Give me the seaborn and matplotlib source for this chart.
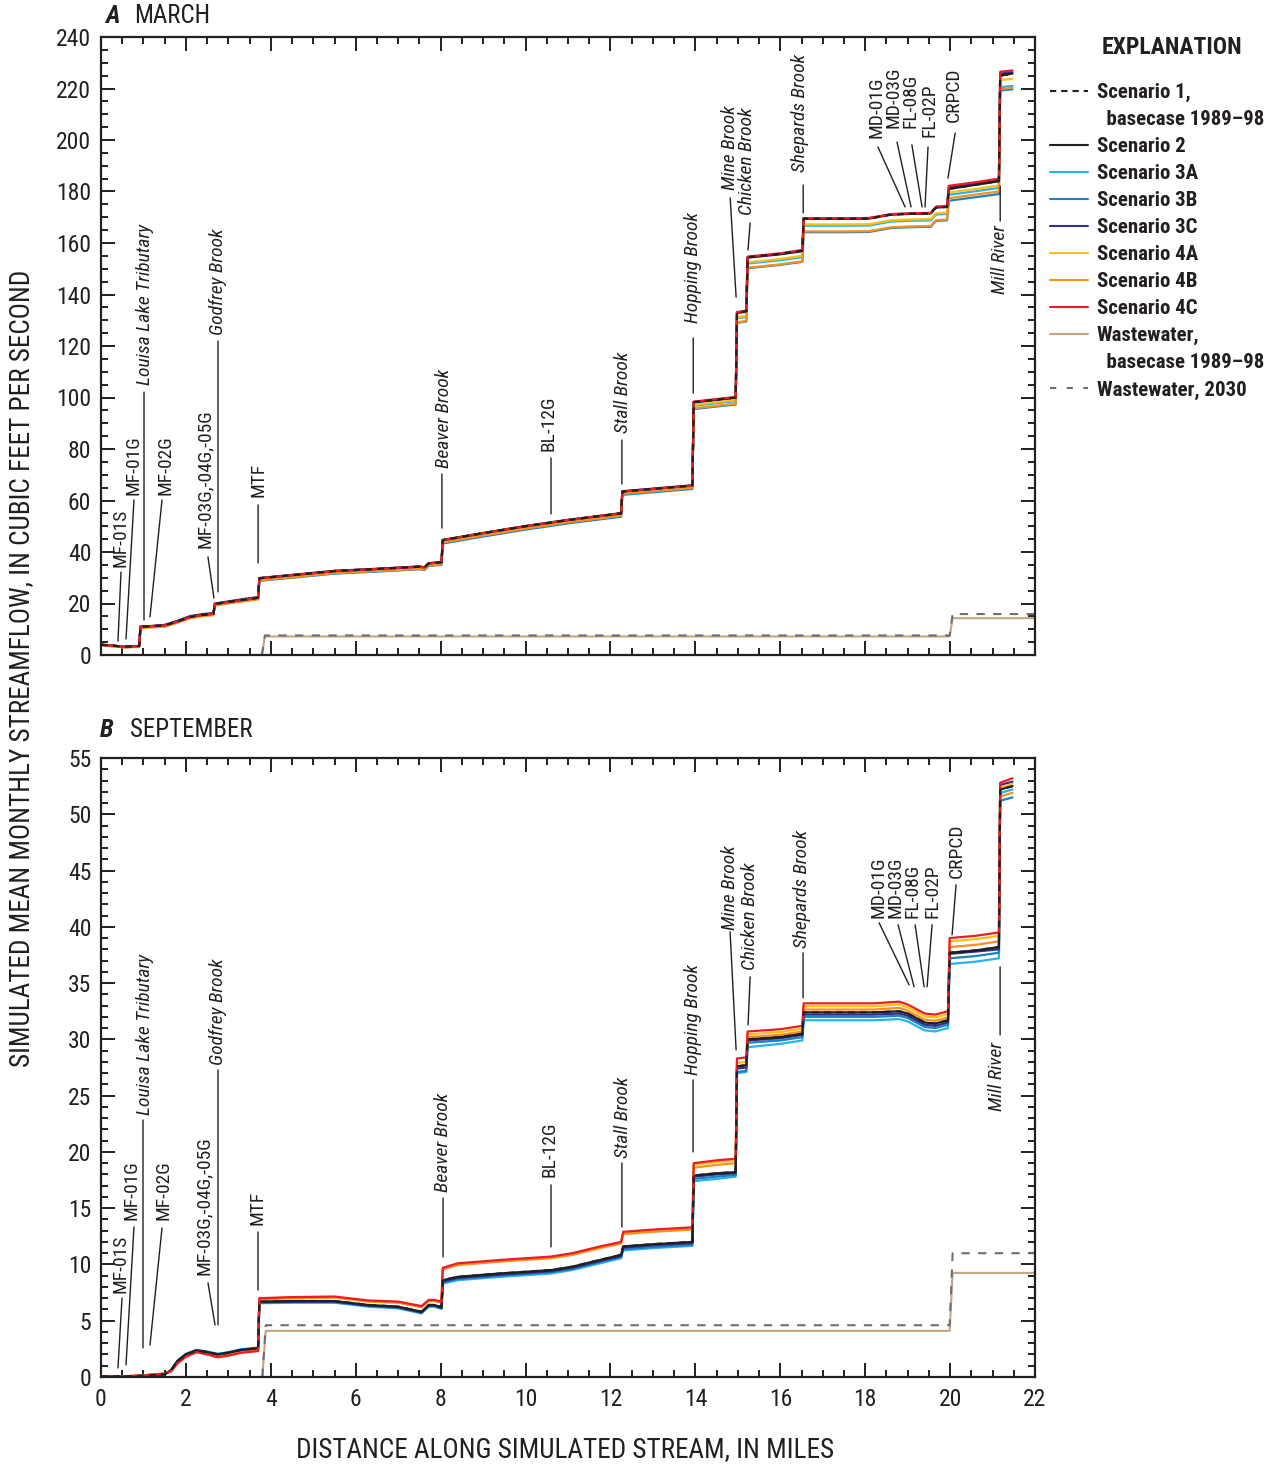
import matplotlib
matplotlib.use("Agg")
import matplotlib.pyplot as plt
from matplotlib import font_manager
from matplotlib.ticker import MultipleLocator
from matplotlib.lines import Line2D
import pandas as pd
import seaborn as sns

# ---------------- data ----------------
march_miles = [0.0, 0.3, 0.55, 0.9, 0.93, 1.2, 1.5, 1.8, 2.1, 2.4, 2.65, 2.68, 3.0, 3.3, 3.7, 3.73,
               4.5, 5.5, 6.5, 7.5, 7.62, 7.72, 8.02, 8.05, 9.0, 10.0, 11.0, 12.25, 12.28, 13.0,
               13.93, 13.96, 14.5, 14.95, 14.98, 15.2, 15.23, 16.0, 16.52, 16.55, 17.5, 18.1,
               18.6, 19.0, 19.55, 19.62, 19.68, 19.93, 19.97, 20.6, 21.15, 21.18, 21.47]
march_s1 = [4.0, 3.6, 3.2, 3.5, 11.0, 11.2, 11.5, 13.0, 14.8, 15.6, 16.0, 19.8, 20.6, 21.3, 22.2, 29.8,
            31.0, 32.6, 33.4, 34.3, 34.0, 35.6, 36.0, 44.6, 47.3, 50.0, 52.4, 55.0, 63.5, 64.5,
            65.8, 98.2, 99.2, 100.0, 133.0, 133.5, 154.5, 155.8, 157.0, 169.4, 169.4, 169.5,
            171.0, 171.3, 171.5, 173.0, 173.8, 174.0, 181.0, 182.6, 184.0, 225.0, 225.8]
march_s2 = [4.0, 3.6, 3.2, 3.5, 11.0, 11.2, 11.5, 13.0, 14.8, 15.6, 16.0, 19.8, 20.6, 21.3, 22.2, 29.8,
            31.0, 32.6, 33.4, 34.3, 34.0, 35.6, 36.0, 44.6, 47.3, 50.0, 52.4, 55.0, 63.5, 64.5,
            65.8, 98.2, 99.2, 100.0, 133.0, 133.5, 154.5, 155.8, 157.0, 169.4, 169.4, 169.5,
            171.0, 171.3, 171.5, 173.0, 173.8, 174.0, 181.0, 182.6, 184.0, 225.0, 225.8]
march_s3a = [3.8, 3.4, 3.0, 3.3, 10.8, 11.0, 11.4, 12.9, 14.7, 15.5, 15.9, 19.6, 20.4, 21.1, 22.0, 29.0,
             30.2, 31.8, 32.6, 33.5, 33.2, 34.8, 35.2, 43.6, 46.3, 49.0, 51.4, 54.0, 62.5, 63.5,
             64.8, 96.8, 97.8, 98.6, 130.8, 131.3, 152.0, 153.3, 154.5, 166.7, 166.7, 166.8,
             168.3, 168.6, 168.8, 170.3, 171.1, 171.3, 178.7, 180.1, 181.4, 220.5, 221.0]
march_s3b = [3.9, 3.5, 3.1, 3.4, 10.9, 11.1, 11.5, 13.1, 14.9, 15.7, 16.1, 19.8, 20.7, 21.4, 22.3, 28.8,
             30.0, 31.6, 32.4, 33.3, 33.0, 34.6, 35.0, 43.3, 46.0, 48.7, 51.1, 53.7, 62.2, 63.2,
             64.5, 95.5, 96.5, 97.3, 129.0, 129.5, 150.2, 151.5, 152.7, 164.2, 164.2, 164.3,
             165.8, 166.1, 166.3, 167.8, 168.6, 168.8, 176.4, 177.8, 179.0, 219.2, 219.7]
march_s3c = [4.0, 3.6, 3.2, 3.5, 11.0, 11.3, 11.7, 13.3, 15.1, 15.9, 16.3, 20.0, 20.8, 21.6, 22.5, 29.9,
             31.1, 32.7, 33.5, 34.4, 34.1, 35.7, 36.1, 44.7, 47.4, 50.1, 52.5, 55.1, 63.6, 64.6,
             65.9, 98.0, 99.0, 99.8, 132.8, 133.3, 154.3, 155.6, 156.8, 169.6, 169.6, 169.7,
             171.1, 171.4, 171.6, 173.1, 173.9, 174.1, 181.6, 183.0, 184.4, 225.8, 226.3]
march_s4a = [3.8, 3.4, 3.0, 3.3, 10.7, 10.9, 11.2, 12.7, 14.5, 15.3, 15.7, 19.4, 20.2, 20.9, 21.8, 29.3,
             30.5, 32.1, 32.9, 33.8, 33.5, 35.1, 35.5, 44.0, 46.7, 49.4, 51.8, 54.4, 62.9, 63.9,
             65.2, 97.2, 98.2, 99.0, 131.2, 131.7, 152.5, 153.8, 155.0, 167.2, 167.2, 167.3,
             168.8, 169.1, 169.3, 170.8, 171.6, 171.8, 179.6, 181.0, 182.3, 223.3, 223.8]
march_s4b = [3.7, 3.3, 2.9, 3.2, 10.5, 10.7, 11.0, 12.5, 14.3, 15.1, 15.5, 19.2, 20.0, 20.7, 21.6, 29.0,
             30.2, 31.8, 32.6, 33.5, 33.2, 34.8, 35.2, 43.7, 46.4, 49.1, 51.5, 54.1, 62.6, 63.6,
             64.9, 95.8, 96.8, 97.6, 129.2, 129.7, 150.4, 151.7, 152.9, 164.5, 164.5, 164.6,
             166.1, 166.4, 166.6, 168.1, 168.9, 169.1, 177.4, 178.8, 180.0, 219.8, 220.3]
march_s4c = [4.0, 3.6, 3.2, 3.5, 11.0, 11.2, 11.5, 13.0, 14.8, 15.6, 16.0, 19.8, 20.6, 21.3, 22.2, 29.8,
             31.0, 32.6, 33.4, 34.3, 34.0, 35.6, 36.0, 44.6, 47.3, 50.0, 52.4, 55.0, 63.5, 64.5,
             65.8, 98.4, 99.4, 100.2, 133.2, 133.7, 154.7, 156.0, 157.3, 169.6, 169.6, 169.7,
             171.2, 171.5, 171.7, 173.3, 174.2, 174.4, 182.2, 183.6, 185.0, 226.5, 227.0]
march_ww_miles = [3.79, 3.86, 19.99, 20.06, 22.0]
march_ww_base = [0.0, 7.2, 7.2, 14.3, 14.3]
march_ww_2030 = [0.0, 7.6, 7.6, 15.9, 15.9]

sept_miles = [0.0, 0.5, 1.0, 1.5, 1.65, 1.8, 2.0, 2.25, 2.5, 2.75, 3.0, 3.3, 3.7, 3.73, 4.5, 5.5,
              6.3, 7.0, 7.55, 7.72, 7.85, 8.02, 8.05, 8.4, 9.4, 10.6, 11.1, 11.75, 12.25, 12.3,
              13.0, 13.93, 13.96, 14.5, 14.95, 14.98, 15.2, 15.23, 16.0, 16.52, 16.55, 17.5,
              18.2, 18.8, 19.0, 19.4, 19.65, 19.95, 19.99, 20.6, 21.15, 21.18, 21.47]
sept_s1 = [0.05, 0.05, 0.1, 0.25, 0.6, 1.4, 2.0, 2.35, 2.2, 2.0, 2.15, 2.4, 2.55, 6.7, 6.75, 6.75,
           6.4, 6.25, 5.8, 6.4, 6.4, 6.2, 8.6, 8.9, 9.2, 9.5, 9.8, 10.4, 10.85, 11.6, 11.8, 12.0,
           17.9, 18.1, 18.2, 27.6, 27.7, 30.0, 30.2, 30.5, 32.4, 32.4, 32.4, 32.5, 32.3, 31.5,
           31.4, 31.7, 37.7, 37.9, 38.2, 52.2, 52.5]
sept_s2 = [0.05, 0.05, 0.1, 0.25, 0.6, 1.4, 2.0, 2.35, 2.2, 2.0, 2.15, 2.4, 2.55, 6.7, 6.75, 6.75,
           6.4, 6.25, 5.8, 6.4, 6.4, 6.2, 8.6, 8.9, 9.2, 9.5, 9.8, 10.4, 10.85, 11.6, 11.8, 12.0,
           17.9, 18.1, 18.2, 27.6, 27.7, 30.0, 30.2, 30.5, 32.4, 32.4, 32.4, 32.5, 32.3, 31.5,
           31.4, 31.7, 37.7, 37.9, 38.2, 52.2, 52.5]
sept_s3a = [0.05, 0.05, 0.1, 0.25, 0.6, 1.45, 2.05, 2.4, 2.25, 2.05, 2.2, 2.45, 2.6, 6.55, 6.6, 6.6,
            6.25, 6.1, 5.65, 6.25, 6.25, 6.05, 8.3, 8.6, 8.9, 9.2, 9.5, 10.1, 10.55, 11.25, 11.45,
            11.65, 17.4, 17.6, 17.8, 27.0, 27.1, 29.3, 29.6, 29.9, 31.7, 31.7, 31.7, 31.8, 31.6,
            30.8, 30.7, 31.0, 36.7, 36.9, 37.2, 51.9, 52.2]
sept_s3b = [0.05, 0.05, 0.1, 0.25, 0.6, 1.45, 2.05, 2.4, 2.25, 2.05, 2.2, 2.45, 2.6, 6.6, 6.65, 6.65,
            6.3, 6.15, 5.7, 6.3, 6.3, 6.1, 8.4, 8.7, 9.0, 9.3, 9.6, 10.2, 10.65, 11.35, 11.55,
            11.75, 17.6, 17.8, 17.95, 27.1, 27.2, 29.7, 29.9, 30.2, 32.0, 32.0, 32.0, 32.1, 31.9,
            31.1, 31.0, 31.3, 37.2, 37.4, 37.7, 51.2, 51.5]
sept_s3c = [0.05, 0.05, 0.1, 0.25, 0.6, 1.4, 2.0, 2.35, 2.2, 2.0, 2.15, 2.4, 2.55, 6.65, 6.7, 6.7,
            6.35, 6.2, 5.75, 6.35, 6.35, 6.15, 8.5, 8.8, 9.1, 9.4, 9.7, 10.3, 10.75, 11.5, 11.7,
            11.9, 17.8, 18.0, 18.1, 27.4, 27.5, 29.9, 30.1, 30.4, 32.2, 32.2, 32.2, 32.3, 32.1,
            31.3, 31.2, 31.5, 37.6, 37.8, 38.0, 52.6, 52.9]
sept_s4a = [0.05, 0.05, 0.15, 0.3, 0.55, 1.25, 1.85, 2.25, 2.05, 1.8, 1.95, 2.2, 2.35, 6.95, 7.05, 7.1,
            6.75, 6.65, 6.25, 6.8, 6.8, 6.65, 9.6, 10.0, 10.3, 10.6, 10.9, 11.5, 11.9, 12.8, 13.0,
            13.2, 18.85, 19.1, 19.25, 27.9, 28.0, 30.45, 30.65, 30.95, 32.95, 32.95, 32.95, 33.1,
            32.85, 32.05, 31.95, 32.25, 38.7, 38.9, 39.2, 52.4, 52.7]
sept_s4b = [0.05, 0.05, 0.15, 0.3, 0.55, 1.25, 1.85, 2.25, 2.05, 1.8, 1.95, 2.2, 2.35, 6.9, 7.0, 7.05,
            6.7, 6.6, 6.2, 6.75, 6.75, 6.6, 9.55, 9.95, 10.25, 10.55, 10.85, 11.45, 11.85, 12.7,
            12.9, 13.1, 18.6, 18.85, 19.0, 27.6, 27.7, 30.2, 30.4, 30.7, 32.65, 32.65, 32.65, 32.8,
            32.55, 31.75, 31.65, 31.95, 38.2, 38.4, 38.7, 51.6, 51.9]
sept_s4c = [0.05, 0.05, 0.15, 0.3, 0.5, 1.2, 1.8, 2.2, 2.0, 1.75, 1.9, 2.15, 2.3, 7.0, 7.1, 7.15,
            6.8, 6.7, 6.3, 6.85, 6.85, 6.7, 9.7, 10.1, 10.4, 10.7, 11.0, 11.6, 12.0, 12.9, 13.1,
            13.3, 19.0, 19.25, 19.4, 28.3, 28.4, 30.7, 30.9, 31.2, 33.2, 33.2, 33.2, 33.35, 33.1,
            32.3, 32.2, 32.5, 39.0, 39.2, 39.5, 52.8, 53.2]
sept_ww_miles = [3.80, 3.88, 19.99, 20.06, 22.0]
sept_ww_base = [0.0, 4.1, 4.1, 9.25, 9.25]
sept_ww_2030 = [0.0, 4.6, 4.6, 11.0, 11.0]

scenario_names = ["Scenario 1", "Scenario 2", "Scenario 3A", "Scenario 3B", "Scenario 3C",
                  "Scenario 4A", "Scenario 4B", "Scenario 4C"]
legend_labels = ["Scenario 1,", "  basecase 1989\u201398", "Scenario 2", "Scenario 3A",
                 "Scenario 3B", "Scenario 3C", "Scenario 4A", "Scenario 4B", "Scenario 4C",
                 "Wastewater,", "  basecase 1989\u201398", "Wastewater, 2030"]

# site labels: text, italic, text x, text y, vertical align, leader x0, y0, x1, y1
march_sites = [
    ("MF-01S", False, 0.448, 34.2, "bottom", 0.471, 32.2, 0.40, 5.4),
    ("MF-01G", False, 0.754, 62.1, "bottom", 0.777, 60.2, 0.589, 6.2),
    ("Louisa Lake Tributary", True, 1.037, 104.9, "bottom", 1.013, 102.1, 1.013, 13.6),
    ("MF-02G", False, 1.508, 62.1, "bottom", 1.437, 60.2, 1.154, 14.8),
    ("MF-03G,-04G,-05G", False, 2.45, 41.6, "bottom", 2.52, 38.1, 2.66, 22.1),
    ("Godfrey Brook", True, 2.756, 124.3, "bottom", 2.756, 121.9, 2.756, 24.5),
    ("MTF", False, 3.70, 61.4, "bottom", 3.70, 58.3, 3.70, 35.7),
    ("Beaver Brook", True, 8.08, 72.6, "bottom", 8.03, 70.3, 8.03, 49.3),
    ("BL-12G", False, 10.55, 79.2, "bottom", 10.60, 76.5, 10.60, 54.8),
    ("Stall Brook", True, 12.30, 86.2, "bottom", 12.27, 83.5, 12.27, 66.4),
    ("Hopping Brook", True, 13.95, 128.9, "bottom", 13.95, 123.1, 13.95, 101.7),
    ("Mine Brook", True, 14.82, 180.6, "bottom", 14.82, 177.5, 14.96, 139.0),
    ("Chicken Brook", True, 15.22, 170.9, "bottom", 15.29, 167.8, 15.24, 157.3),
    ("Shepards Brook", True, 16.47, 187.6, "bottom", 16.54, 182.5, 16.54, 171.7),
    ("MD-01G", False, 18.26, 200.8, "bottom", 18.30, 197.3, 18.94, 174.0),
    ("MD-03G", False, 18.66, 204.7, "bottom", 18.75, 199.2, 19.08, 174.0),
    ("FL-08G", False, 19.06, 204.7, "bottom", 19.10, 198.1, 19.34, 174.0),
    ("FL-02P", False, 19.51, 201.2, "bottom", 19.48, 197.3, 19.41, 174.0),
    ("CRPCD", False, 20.09, 207.0, "bottom", 20.12, 202.7, 19.95, 185.2),
    ("Mill River", True, 21.18, 167.0, "top", 21.18, 182.1, 21.18, 168.5),
]
sept_sites = [
    ("MF-01S", False, 0.448, 7.47, "bottom", 0.495, 7.02, 0.40, 0.8),
    ("MF-01G", False, 0.707, 13.96, "bottom", 0.777, 13.33, 0.589, 1.07),
    ("Louisa Lake Tributary", True, 1.037, 23.29, "bottom", 0.989, 22.84, 0.989, 2.58),
    ("MF-02G", False, 1.461, 13.96, "bottom", 1.437, 13.24, 1.154, 2.84),
    ("MF-03G,-04G,-05G", False, 2.426, 9.07, "bottom", 2.52, 8.36, 2.686, 4.62),
    ("Godfrey Brook", True, 2.756, 27.73, "bottom", 2.756, 27.29, 2.756, 4.62),
    ("MTF", False, 3.698, 13.51, "bottom", 3.698, 12.89, 3.698, 7.73),
    ("Beaver Brook", True, 8.057, 16.44, "bottom", 8.057, 15.91, 8.057, 10.67),
    ("BL-12G", False, 10.554, 17.78, "bottom", 10.60, 17.07, 10.60, 11.56),
    ("Stall Brook", True, 12.30, 19.47, "bottom", 12.27, 19.02, 12.27, 13.33),
    ("Hopping Brook", True, 13.946, 26.84, "bottom", 13.946, 26.4, 13.946, 20.0),
    ("Mine Brook", True, 14.818, 39.73, "bottom", 14.818, 39.56, 14.96, 29.07),
    ("Chicken Brook", True, 15.29, 36.18, "bottom", 15.29, 35.56, 15.242, 31.29),
    ("Shepards Brook", True, 16.513, 38.13, "bottom", 16.537, 37.69, 16.537, 33.69),
    ("MD-01G", False, 18.304, 40.8, "bottom", 18.327, 40.36, 19.034, 34.84),
    ("MD-03G", False, 18.704, 40.8, "bottom", 18.775, 40.18, 19.152, 34.67),
    ("FL-08G", False, 19.105, 40.8, "bottom", 19.176, 40.18, 19.388, 34.67),
    ("FL-02P", False, 19.576, 40.8, "bottom", 19.576, 40.18, 19.458, 34.67),
    ("CRPCD", False, 20.165, 44.36, "bottom", 20.14, 43.73, 20.047, 39.29),
    ("Mill River", True, 21.107, 29.78, "top", 21.178, 36.44, 21.178, 30.4),
]

# ---------------- styling ----------------
INK = "#231f20"
colors = {
    "Scenario 1": INK, "Scenario 2": INK, "Scenario 3A": "#27b4ea", "Scenario 3B": "#1b82c8",
    "Scenario 3C": "#2e3192", "Scenario 4A": "#fdc010", "Scenario 4B": "#f7901e",
    "Scenario 4C": "#ed1c24",
}
WW_BASE = "#c4a57c"
WW_2030 = "#6d6e71"
draw_order = ["Scenario 3A", "Scenario 3B", "Scenario 3C", "Scenario 4A", "Scenario 4B",
              "Scenario 2", "Scenario 4C", "Scenario 1"]

sns.set_theme(style="ticks")


def pick_font():
    entries = font_manager.fontManager.ttflist
    for cand in ["Roboto Condensed", "Archivo Narrow", "Barlow Semi Condensed",
                 "Asap Condensed", "Barlow Condensed"]:
        fam = [e for e in entries if e.name == cand]
        has_bold = any(str(e.weight) in ("700", "bold") and e.style == "normal" for e in fam)
        has_ital = any(e.style == "italic" for e in fam)
        if fam and has_bold and has_ital:
            return cand
    return "Liberation Sans"


main_font = pick_font()
plt.rcParams["font.family"] = [main_font, "DejaVu Sans"]
plt.rcParams["text.color"] = INK

fig = plt.figure(figsize=(12.78, 14.66), dpi=100)
axA = fig.add_axes([101 / 1278, 1 - 655 / 1466, 934 / 1278, 618 / 1466])
axB = fig.add_axes([101 / 1278, 1 - 1377 / 1466, 934 / 1278, 619 / 1466])


def draw_panel(ax, miles, series, ww_miles, ww_base, ww_2030, sites, ymax, ymajor, yminor):
    sns.lineplot(x=ww_miles, y=ww_base, ax=ax, color=WW_BASE, linewidth=1.5,
                 estimator=None, sort=False, legend=False)
    sns.lineplot(x=ww_miles, y=ww_2030, ax=ax, color=WW_2030, linewidth=1.5,
                 estimator=None, sort=False, legend=False)
    ax.lines[-1].set_dashes((4, 4))
    for name in draw_order:
        sns.lineplot(x=miles, y=series[name], ax=ax, color=colors[name], linewidth=1.6,
                     estimator=None, sort=False, legend=False)
        if name == "Scenario 1":
            ax.lines[-1].set_dashes((3, 2.4))
    for (txt, ital, tx, ty, va, x0, y0, x1, y1) in sites:
        ax.text(tx, ty, txt, rotation=90, ha="center", va=va, fontsize=14,
                style="italic" if ital else "normal", color=INK)
        ax.annotate("", xy=(x1, y1), xytext=(x0, y0),
                    arrowprops=dict(arrowstyle="-", lw=1.0, color=INK, shrinkA=0, shrinkB=0))
    ax.set_xlim(0, 22)
    ax.set_ylim(0, ymax)
    ax.xaxis.set_major_locator(MultipleLocator(2))
    ax.xaxis.set_minor_locator(MultipleLocator(0.5))
    ax.yaxis.set_major_locator(MultipleLocator(ymajor))
    ax.yaxis.set_minor_locator(MultipleLocator(yminor))
    ax.tick_params(which="major", direction="in", length=10, width=1.4, top=True, right=True,
                   labelsize=17, colors=INK)
    ax.tick_params(which="minor", direction="in", length=5, width=1.4, top=True, right=True,
                   colors=INK)
    ax.tick_params(axis="y", pad=7)
    ax.tick_params(axis="x", pad=8)
    for s in ax.spines.values():
        s.set_linewidth(1.6)
        s.set_color(INK)
    ax.set_xlabel("")
    ax.set_ylabel("")


march = dict(zip(scenario_names, [march_s1, march_s2, march_s3a, march_s3b, march_s3c,
                                  march_s4a, march_s4b, march_s4c]))
sept = dict(zip(scenario_names, [sept_s1, sept_s2, sept_s3a, sept_s3b, sept_s3c,
                                 sept_s4a, sept_s4b, sept_s4c]))

draw_panel(axA, march_miles, march, march_ww_miles, march_ww_base, march_ww_2030,
           march_sites, 240, 20, 5)
draw_panel(axB, sept_miles, sept, sept_ww_miles, sept_ww_base, sept_ww_2030,
           sept_sites, 55, 5, 1)
axA.tick_params(labelbottom=False)

# panel titles
fig.text(105 / 1278, 1 - 16 / 1466, "A", fontsize=18, weight="bold", style="italic",
         va="center", ha="left")
fig.text(134 / 1278, 1 - 16 / 1466, "MARCH", fontsize=18, va="center", ha="left")
fig.text(100 / 1278, 1 - 730 / 1466, "B", fontsize=18, weight="bold", style="italic",
         va="center", ha="left")
fig.text(130 / 1278, 1 - 730 / 1466, "SEPTEMBER", fontsize=18, va="center", ha="left")

# axis titles
fig.text(22 / 1278, 1 - 668 / 1466,
         "SIMULATED MEAN MONTHLY STREAMFLOW, IN CUBIC FEET PER SECOND",
         rotation=90, ha="center", va="center", fontsize=19.5)
fig.text(565 / 1278, 1 - 1450 / 1466, "DISTANCE ALONG SIMULATED STREAM, IN MILES",
         ha="center", va="center", fontsize=19.5)

# legend
handles = [
    Line2D([], [], color=INK, lw=1.5, dashes=(3, 2.4)),
    Line2D([], [], color="none"),
    Line2D([], [], color=INK, lw=1.5),
    Line2D([], [], color=colors["Scenario 3A"], lw=1.5),
    Line2D([], [], color=colors["Scenario 3B"], lw=1.5),
    Line2D([], [], color=colors["Scenario 3C"], lw=1.5),
    Line2D([], [], color=colors["Scenario 4A"], lw=1.5),
    Line2D([], [], color=colors["Scenario 4B"], lw=1.5),
    Line2D([], [], color=colors["Scenario 4C"], lw=1.5),
    Line2D([], [], color=WW_BASE, lw=1.5),
    Line2D([], [], color="none"),
    Line2D([], [], color=WW_2030, lw=1.5, dashes=(3, 5)),
]
fig.text(1172 / 1278, 1 - 47 / 1466, "EXPLANATION", fontsize=17, weight="bold",
         ha="center", va="center")
leg = fig.legend(handles, legend_labels, loc="upper left",
                 bbox_to_anchor=(1050 / 1278, 1 - 83 / 1466), frameon=False,
                 prop=dict(weight="bold", size=15), handlelength=1.8, handletextpad=0.45,
                 labelspacing=0.385, borderaxespad=0, borderpad=0)

fig.savefig("out.png", dpi=100)
